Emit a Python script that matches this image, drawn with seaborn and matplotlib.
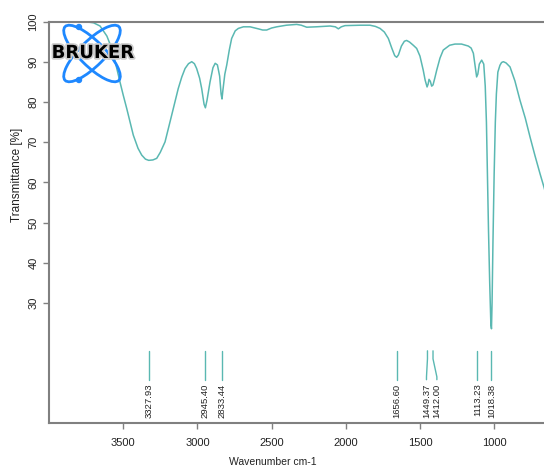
import numpy as np
import pandas as pd
from matplotlib import pyplot as plt
import seaborn as sns
from matplotlib.patches import Ellipse, Circle
import matplotlib.patheffects as pe

# spectrum (wavenumber cm-1, transmittance %)
wavenumber = [4000, 3900, 3800, 3740, 3700, 3656, 3610, 3577, 3550, 3522, 3500, 3476,
              3450, 3432, 3400, 3375, 3350, 3328, 3300, 3274, 3250, 3218, 3195, 3173,
              3150, 3129, 3105, 3083, 3060, 3038, 3020, 3005, 2985, 2971, 2955, 2946,
              2935, 2915, 2895, 2880, 2865, 2850, 2840, 2834, 2828, 2815, 2802, 2785,
              2769, 2745, 2724, 2690, 2645, 2590, 2560, 2533, 2500, 2465, 2400, 2331,
              2300, 2263, 2200, 2106, 2070, 2050, 2030, 2005, 1900, 1837, 1800, 1769,
              1740, 1713, 1690, 1670, 1657, 1645, 1625, 1605, 1590, 1570, 1545, 1522,
              1500, 1478, 1465, 1452, 1445, 1439, 1430, 1421, 1412, 1400, 1387, 1365,
              1343, 1300, 1264, 1220, 1174, 1155, 1140, 1128, 1118, 1110, 1100, 1084,
              1070, 1060, 1052, 1044, 1038, 1030, 1022, 1018, 1014, 1008, 1000, 992,
              985, 975, 961, 950, 938, 920, 893, 860, 826, 790, 758, 725, 691, 664, 640]
transmittance = [100, 100, 100, 100, 99.8, 99.0, 96.5, 93.4, 89.5, 85.1, 81.8, 78.4,
                 74.5, 71.8, 68.5, 66.8, 65.8, 65.5, 65.6, 66.0, 67.5, 70.1, 73.5, 76.8,
                 80.2, 83.4, 86.3, 88.4, 89.6, 90.1, 89.6, 88.4, 86.0, 83.4, 79.5, 78.6,
                 80.5, 85.0, 88.6, 89.7, 89.3, 86.5, 82.0, 80.8, 83.0, 87.0, 89.3, 93.0,
                 95.9, 97.8, 98.4, 98.8, 98.8, 98.3, 98.0, 98.0, 98.5, 98.8, 99.2, 99.4,
                 99.2, 98.7, 98.8, 99.0, 98.8, 98.3, 98.8, 99.1, 99.2, 99.2, 98.9, 98.4,
                 97.5, 95.9, 93.5, 91.6, 91.2, 91.8, 94.0, 95.2, 95.4, 95.0, 94.2, 93.4,
                 91.5, 88.0, 85.5, 83.8, 84.5, 85.7, 85.2, 84.0, 84.3, 86.0, 88.0, 91.0,
                 93.0, 94.2, 94.5, 94.5, 94.0, 93.5, 92.2, 89.0, 86.3, 87.0, 89.5, 90.5,
                 89.5, 84.0, 75.0, 60.0, 48.0, 35.0, 24.5, 23.5, 30.0, 45.0, 62.0, 75.0,
                 82.0, 87.5, 89.2, 89.9, 90.1, 89.8, 88.8, 85.3, 80.5, 76.0, 71.3, 66.7,
                 62.2, 58.8, 55.5]

# picked peaks and where their labels sit
peak_pos = [3327.93, 2945.40, 2833.44, 1656.60, 1449.37, 1412.00, 1113.23, 1018.38]
peak_label_pos = [3327.93, 2945.40, 2833.44, 1656.60, 1456.0, 1386.0, 1113.23, 1018.38]
peak_labels = ["3327.93", "2945.40", "2833.44", "1656.60", "1449.37", "1412.00",
               "1113.23", "1018.38"]

x_ticks = [3500, 3000, 2500, 2000, 1500, 1000]
y_ticks = [30, 40, 50, 60, 70, 80, 90, 100]

teal = "#5ab8b2"
grey = "#808080"

df = pd.DataFrame({"wn": wavenumber, "T": transmittance})

sns.set_style("white")
plt.rcParams["font.family"] = ["Liberation Sans", "DejaVu Sans"]

fig = plt.figure(figsize=(5.44, 4.70), dpi=100)
ax = fig.add_axes([49 / 544, 1 - 423 / 470, 1 - 49 / 544, (423 - 22) / 470])

sns.lineplot(data=df, x="wn", y="T", color=teal, linewidth=1.1, ax=ax, estimator=None)

ax.set_xlim(4000, 664)
ax.set_ylim(0, 100)

# peak markers
for p, lp, lab in zip(peak_pos, peak_label_pos, peak_labels):
    ax.plot([p, p, lp, lp], [18, 16, 11.5, 10.8], color=teal, linewidth=1.0)
    ax.text(lp, 9.8, lab, rotation=90, ha="center", va="top", fontsize=6.8, color="#222222")

ax.set_xticks(x_ticks)
ax.set_yticks(y_ticks)
ax.tick_params(axis="both", length=4, width=1, color=grey, labelsize=8,
               labelcolor="#222222", direction="out", bottom=True, left=True)
ax.tick_params(axis="x", pad=7)
for t in ax.get_yticklabels():
    t.set_rotation(90)
    t.set_va("center")

ax.set_xlabel("Wavenumber cm-1", fontsize=7.5, color="#222222")
ax.set_ylabel("Transmittance [%]", fontsize=8.5, color="#222222")
ax.xaxis.set_label_coords(0.4525, -0.085)
ax.yaxis.set_label_coords(-0.052, 0.62)

for s in ["left", "bottom", "top"]:
    ax.spines[s].set_color(grey)
    ax.spines[s].set_linewidth(1.5)
ax.spines["right"].set_visible(False)

# Bruker logo
blue = "#1e88ff"
tr = fig.dpi_scale_trans
for ang in (45, -45):
    fig.patches.append(Ellipse((0.92, 4.165), 0.76, 0.25, angle=ang, fill=False,
                               edgecolor=blue, linewidth=2, transform=tr))
for cy in (4.43, 3.90):
    fig.patches.append(Circle((0.79, cy), 0.025, color=blue, transform=tr))
fig.text(0.925, 4.17, "BRUKER", transform=tr, ha="center", va="center",
         fontsize=13, fontweight="bold", family="DejaVu Sans", color="black",
         path_effects=[pe.withStroke(linewidth=2.5, foreground="#cccccc")])

plt.savefig("out.png", dpi=100)
